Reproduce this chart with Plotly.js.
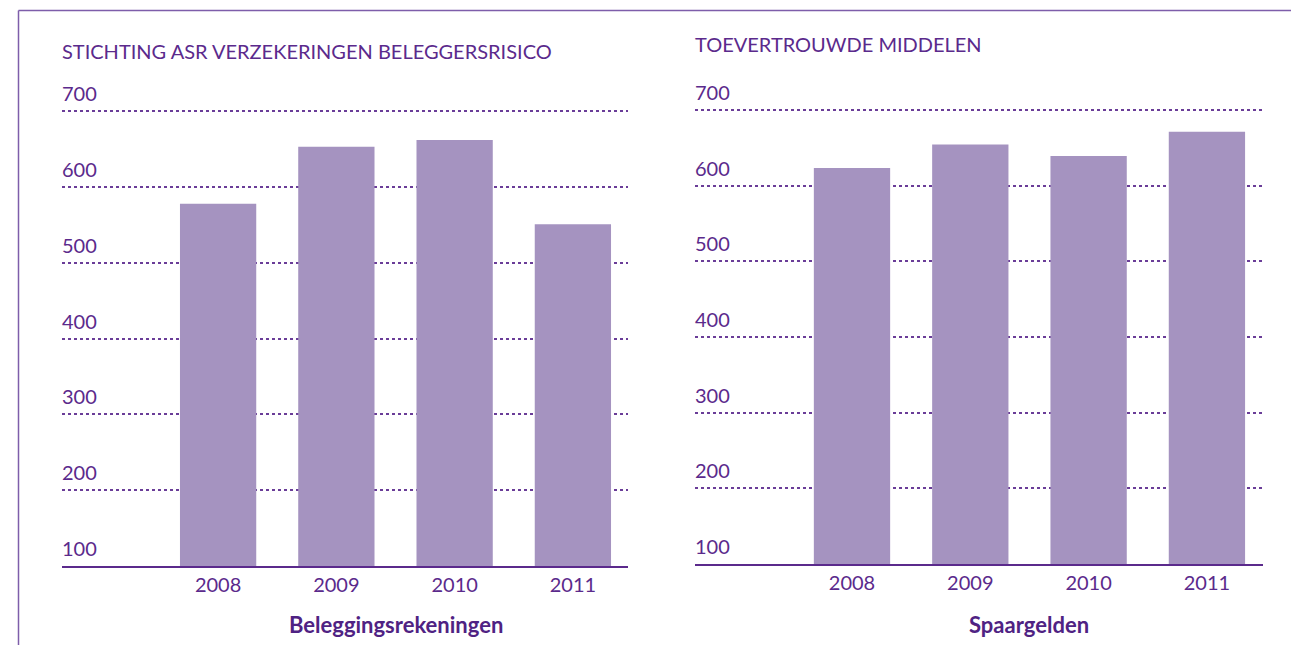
<!DOCTYPE html>
<html>
<head>
<meta charset="utf-8">
<script src="https://cdn.plot.ly/plotly-3.0.1.min.js"></script>
<style>html,body{margin:0;padding:0;background:#fff;}#chart{width:1291px;height:645px;}</style>
</head>
<body>
<div id="chart"></div>
<script>
// ---- data ----
const years = ['2008', '2009', '2010', '2011'];
const beleggingsrekeningen = [578, 653, 662, 551];
const spaargelden = [623, 654, 639, 671];
const yTickVals = [100, 200, 300, 400, 500, 600, 700];
const yTickText = ['100', '200', '300', '400', '500', '600', '700'];
const leftTitle = 'STICHTING ASR VERZEKERINGEN BELEGGERSRISICO';
const rightTitle = 'TOEVERTROUWDE MIDDELEN';
const leftAxisTitle = 'Beleggingsrekeningen';
const rightAxisTitle = 'Spaargelden';

// ---- style ----
const W = 1291, H = 645;
const txt = '#5b2a8c';
const barColor = '#a593c0';
const gridColor = '#6a3d98';
const borderColor = '#7e5eaa';
const FONT = 'Lato, "Open Sans", sans-serif';

function px(x) { return x / W; }
function py(y) { return 1 - y / H; }

const traces = [
  { type: 'bar', x: years, y: beleggingsrekeningen, xaxis: 'x', yaxis: 'y',
    marker: { color: barColor }, width: 0.645, hoverinfo: 'x+y' },
  { type: 'bar', x: years, y: spaargelden, xaxis: 'x2', yaxis: 'y2',
    marker: { color: barColor }, width: 0.645, hoverinfo: 'x+y' }
];

function xAxis(domain, range) {
  return {
    domain: domain, range: range, type: 'category', categoryarray: years,
    showgrid: false, zeroline: false, showline: true, linecolor: txt, linewidth: 1.5,
    ticks: '', tickfont: { family: FONT, size: 20, color: txt }, fixedrange: true
  };
}
function yAxis(domain, anchor) {
  return {
    domain: domain, range: [100, 760], anchor: anchor,
    tickvals: yTickVals, ticktext: yTickText,
    showgrid: true, gridcolor: gridColor, gridwidth: 2, griddash: '3px,3px',
    zeroline: false, showline: false, ticks: '',
    ticklabelposition: 'inside', ticklabelshift: -17, ticklabelstandoff: -3,
    tickfont: { family: FONT, size: 20, color: txt }, fixedrange: true
  };
}

const layout = {
  width: W, height: H,
  margin: { l: 0, r: 0, t: 0, b: 0 },
  paper_bgcolor: '#ffffff', plot_bgcolor: 'rgba(0,0,0,0)',
  showlegend: false, bargap: 0.35,
  font: { family: FONT, color: txt },
  xaxis: xAxis([px(62), px(628)], [-1.32, 3.466]),
  yaxis: yAxis([py(566), py(566 - 6.6 * 75.8)], 'x'),
  xaxis2: Object.assign(xAxis([px(695), px(1263)], [-1.327, 3.474]), { anchor: 'y2' }),
  yaxis2: yAxis([py(564), py(564 - 6.6 * 75.7)], 'x2'),
  shapes: [
    { type: 'line', xref: 'paper', yref: 'paper', x0: px(18.5), x1: px(18.5), y0: py(10.5), y1: 0,
      line: { color: borderColor, width: 1.5 } },
    { type: 'line', xref: 'paper', yref: 'paper', x0: px(18.5), x1: 1, y0: py(10.5), y1: py(10.5),
      line: { color: borderColor, width: 1.5 } }
  ],
  annotations: [
    { text: leftTitle, xref: 'paper', yref: 'paper', x: px(60), y: py(50.5), xanchor: 'left', yanchor: 'middle',
      showarrow: false, font: { family: FONT, size: 20, color: txt } },
    { text: rightTitle, xref: 'paper', yref: 'paper', x: px(693), y: py(44), xanchor: 'left', yanchor: 'middle',
      showarrow: false, font: { family: FONT, size: 20, color: txt } },
    { text: '<b>' + leftAxisTitle + '</b>', xref: 'x', yref: 'paper', x: 1.5, y: py(624), xanchor: 'center', yanchor: 'middle',
      showarrow: false, font: { family: FONT, size: 22, color: '#4f2283' } },
    { text: '<b>' + rightAxisTitle + '</b>', xref: 'x2', yref: 'paper', x: 1.5, y: py(624), xanchor: 'center', yanchor: 'middle',
      showarrow: false, font: { family: FONT, size: 22, color: '#4f2283' } }
  ]
};

Plotly.newPlot('chart', traces, layout, { displayModeBar: false, staticPlot: true });
</script>
</body>
</html>
